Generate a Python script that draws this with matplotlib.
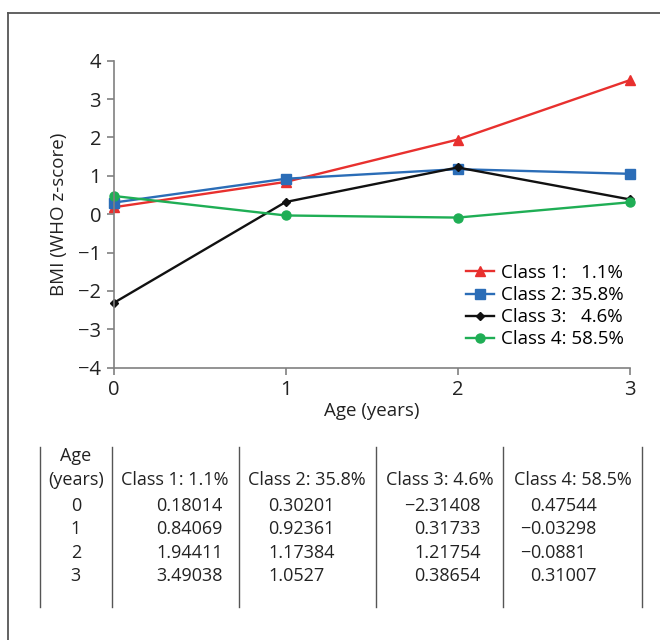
import matplotlib
matplotlib.use("Agg")
import matplotlib.pyplot as plt
from matplotlib.lines import Line2D

plt.rcParams['font.family'] = ['Open Sans', 'DejaVu Sans']

ages = [0, 1, 2, 3]
class1 = [0.18014, 0.84069, 1.94411, 3.49038]
class2 = [0.30201, 0.92361, 1.17384, 1.0527]
class3 = [-2.31408, 0.31733, 1.21754, 0.38654]
class4 = [0.47544, -0.03298, -0.0881, 0.31007]
class1_txt = ['0.18014', '0.84069', '1.94411', '3.49038']
class2_txt = ['0.30201', '0.92361', '1.17384', '1.0527']
class3_txt = ['-2.31408', '0.31733', '1.21754', '0.38654']
class4_txt = ['0.47544', '-0.03298', '-0.0881', '0.31007']
legend_labels = ['Class 1:   1.1%', 'Class 2: 35.8%', 'Class 3:   4.6%', 'Class 4: 58.5%']
table_heads = ['Class 1: 1.1%', 'Class 2: 35.8%', 'Class 3: 4.6%', 'Class 4: 58.5%']

W, H = 660, 640
fig = plt.figure(figsize=(6.6, 6.4), dpi=100)
ax = fig.add_axes([113.6 / W, 1 - 367.7 / H, 516 / W, 307 / H])

ax.plot(ages, class1, color='#e8302e', marker='^', ms=7, lw=1.7, clip_on=False, label=legend_labels[0])
ax.plot(ages, class2, color='#2b6db7', marker='s', ms=6.5, lw=1.7, clip_on=False, label=legend_labels[1])
ax.plot(ages, class3, color='#111111', marker='D', ms=4.5, lw=1.7, clip_on=False, label=legend_labels[2])
ax.plot(ages, class4, color='#1fae55', marker='o', ms=6.5, lw=1.7, clip_on=False, label=legend_labels[3])

ax.set_xlim(0, 3)
ax.set_ylim(-4, 4)
ax.set_xticks(ages)
ax.set_yticks(range(-4, 5))
for s in ['top', 'right']:
    ax.spines[s].set_visible(False)
for s in ['left', 'bottom']:
    ax.spines[s].set_color('#808080')
    ax.spines[s].set_linewidth(1.2)
ax.tick_params(colors='#808080', labelcolor='#222222', labelsize=14.5, length=5, width=1.2, pad=4)
ax.set_xlabel('Age (years)', fontsize=13.5, color='#222222', labelpad=1)
ax.set_ylabel('BMI (WHO z-score)', fontsize=13.5, color='#222222', labelpad=7)

ax.legend(loc='upper left', bbox_to_anchor=(466 / W, 1 - 264 / H), bbox_transform=fig.transFigure,
          frameon=False, fontsize=13.5, handlelength=1.5, handletextpad=0.35, labelspacing=0.22,
          borderpad=0, borderaxespad=0)

# outer frame
fig.add_artist(Line2D([8 / W, 8 / W], [0, 1 - 13 / H], color='#555555', lw=1.3))
fig.add_artist(Line2D([8 / W, 1], [1 - 13 / H, 1 - 13 / H], color='#555555', lw=1.3))

# table
seps = [40, 111.5, 238.6, 375.8, 503, 641.8]
for xs in seps:
    fig.add_artist(Line2D([xs / W, xs / W], [1 - 447 / H, 1 - 607 / H], color='#555555', lw=1.0))

tsize = 13
tcol = '#222222'
col_centers = [(seps[i] + seps[i + 1]) / 2 for i in range(5)]
fig.text(col_centers[0] / W, 1 - 456 / H, 'Age', ha='center', va='center', fontsize=tsize, color=tcol)
fig.text(col_centers[0] / W, 1 - 480 / H, '(years)', ha='center', va='center', fontsize=tsize, color=tcol)
for i, h in enumerate(table_heads):
    fig.text(col_centers[i + 1] / W, 1 - 480 / H, h, ha='center', va='center', fontsize=tsize, color=tcol)

row_y = [506, 529, 553, 576]
digit_left = [156, 268, 414, 530]
cols = [class1_txt, class2_txt, class3_txt, class4_txt]
for r, a in enumerate(ages):
    y = 1 - row_y[r] / H
    fig.text(col_centers[0] / W, y, str(a), ha='center', va='center', fontsize=tsize, color=tcol)
    for c, vals in enumerate(cols):
        v = vals[r]
        x = digit_left[c] / W
        if v.startswith('-'):
            fig.text(x, y, '\u2212', ha='right', va='center', fontsize=tsize, color=tcol)
            v = v[1:]
        fig.text(x, y, v, ha='left', va='center', fontsize=tsize, color=tcol)

fig.savefig('out.png', dpi=100)
